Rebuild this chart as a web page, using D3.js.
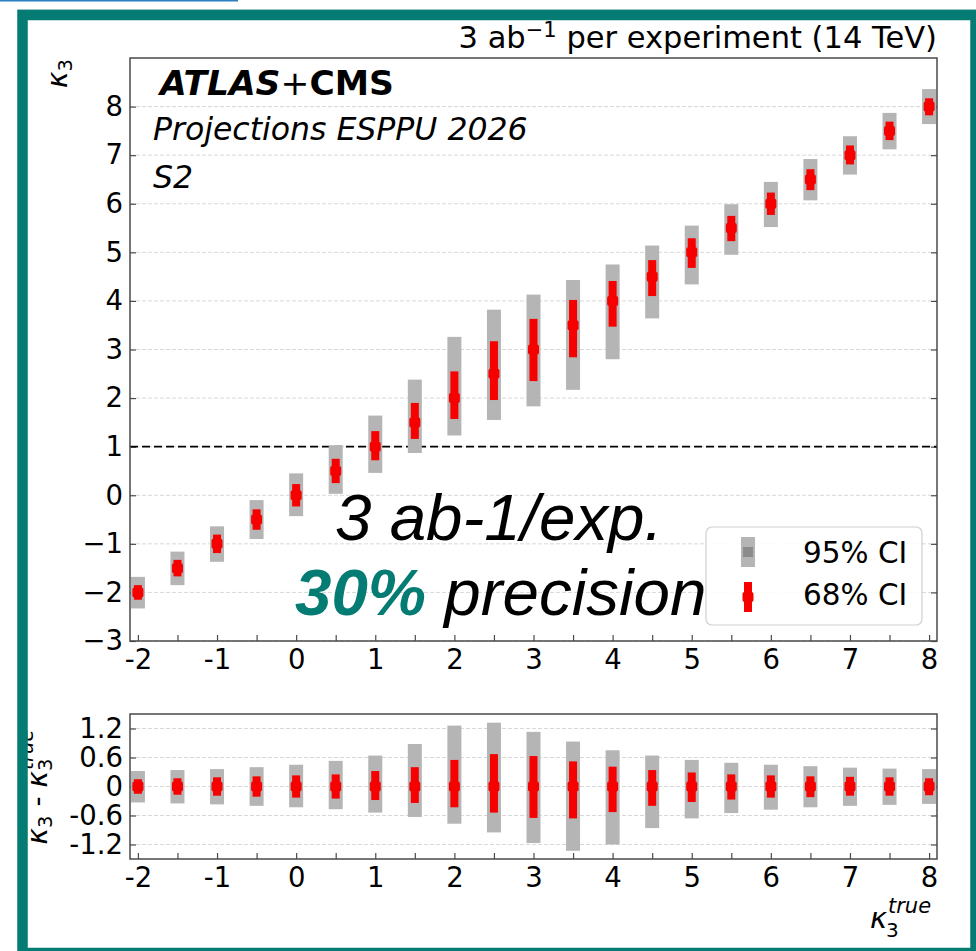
<!DOCTYPE html>
<html><head><meta charset="utf-8">
<script src="https://cdn.jsdelivr.net/npm/d3@7/dist/d3.min.js"></script>
<style>body{margin:0;background:#fff}svg{display:block}</style>
</head><body>
<svg id="c" width="976" height="951"></svg>
<script>
// ---------------- data ----------------
const kTrue  = [-2,-1.5,-1,-0.5,0,0.5,1,1.5,2,2.5,3,3.5,4,4.5,5,5.5,6,6.5,7,7.5,8];
const kFit   = [-2,-1.5,-1,-0.5,0,0.5,1,1.5,2,2.5,3,3.5,4,4.5,5,5.5,6,6.5,7,7.5,8];
const ci95Up = [0.32,0.34,0.36,0.40,0.45,0.53,0.64,0.88,1.26,1.32,1.13,0.93,0.75,0.64,0.55,0.49,0.45,0.42,0.39,0.37,0.36];
const ci95Dn = [0.33,0.35,0.37,0.40,0.43,0.47,0.54,0.63,0.77,0.95,1.17,1.33,1.20,0.86,0.66,0.55,0.48,0.43,0.40,0.38,0.36];
const ci68Up = [0.15,0.17,0.19,0.21,0.23,0.25,0.32,0.40,0.55,0.67,0.63,0.52,0.41,0.34,0.29,0.25,0.23,0.21,0.20,0.19,0.17];
const ci68Dn = [0.15,0.17,0.19,0.21,0.23,0.25,0.28,0.34,0.43,0.54,0.65,0.66,0.53,0.40,0.32,0.27,0.23,0.22,0.19,0.19,0.18];
const xTicks      = [-2,-1.5,-1,-0.5,0,0.5,1,1.5,2,2.5,3,3.5,4,4.5,5,5.5,6,6.5,7,7.5,8];
const xTickLabels = ["-2","","-1","","0","","1","","2","","3","","4","","5","","6","","7","","8"];
const yTicksMain      = [-3,-2,-1,0,1,2,3,4,5,6,7,8];
const yTickLabelsMain = ["\u22123","\u22122","\u22121","0","1","2","3","4","5","6","7","8"];
const yTicksRatio      = [-1.2,-0.6,0,0.6,1.2];
const yTickLabelsRatio = ["-1.2","-0.6","0","0.6","1.2"];
const refLine = [1];
const legendLabels = ["95% CI","68% CI"];

// ---------------- style ----------------
const TEAL = "#047b73", GRAY = "#b5b5b5", RED = "#f60000", SPINE = "#4a4a4a";
const FONT = "'DejaVu Sans', sans-serif";
const TFS = 27.5;

const svg = d3.select("#c");
svg.append("rect").attr("width",976).attr("height",951).attr("fill","#fff");

const x = d3.scaleLinear().domain([-2.1, 8.1]).range([130, 937]);
const yM = d3.scaleLinear().domain([-3, 9]).range([641, 58]);
const yR = d3.scaleLinear().domain([-1.5, 1.5]).range([859, 714]);

function panel(yScale, yTicks, yLabels, gridTicks) {
  const g = svg.append("g");
  const [y0, y1] = yScale.range();
  g.selectAll("line.grid").data(gridTicks).join("line")
    .attr("x1", x.range()[0]).attr("x2", x.range()[1])
    .attr("y1", d => yScale(d)).attr("y2", d => yScale(d))
    .attr("stroke", "#d8d8d8").attr("stroke-width", 1).attr("stroke-dasharray", "4,2");
  const ax = g.append("g").attr("transform", `translate(0,${y0})`)
    .call(d3.axisBottom(x).tickValues(xTicks).tickSize(-6).tickPadding(8).tickFormat((d,i)=>xTickLabels[i]));
  const ay = g.append("g").attr("transform", `translate(${x.range()[0]},0)`)
    .call(d3.axisLeft(yScale).tickValues(yTicks).tickSize(-6).tickPadding(7).tickFormat((d,i)=>yLabels[i]));
  const ayr = g.append("g").attr("transform", `translate(${x.range()[1]},0)`)
    .call(d3.axisRight(yScale).tickValues(yTicks).tickSize(-6).tickFormat(""));
  [ax, ay, ayr].forEach(a => {
    a.select(".domain").remove();
    a.selectAll(".tick line").attr("stroke", SPINE).attr("stroke-width", 1.2);
    a.selectAll("text").attr("font-family", FONT).attr("font-size", TFS).attr("fill", "#000");
  });
  return g;
}

const gMain = panel(yM, yTicksMain, yTickLabelsMain, yTicksMain);
const gRat = panel(yR, yTicksRatio, yTickLabelsRatio, yTicksRatio);

gMain.selectAll("line.ref").data(refLine).join("line")
  .attr("x1", x.range()[0]).attr("x2", x.range()[1])
  .attr("y1", d => yM(d)).attr("y2", d => yM(d))
  .attr("stroke", "#000").attr("stroke-width", 1.6).attr("stroke-dasharray", "8,4");

function drawPoints(g, yScale, center) {
  const idx = d3.range(kTrue.length);
  g.selectAll("rect.ci95").data(idx).join("rect")
    .attr("x", i => x(kTrue[i]) - 7).attr("width", 14)
    .attr("y", i => yScale(center(i) + ci95Up[i]))
    .attr("height", i => yScale(center(i) - ci95Dn[i]) - yScale(center(i) + ci95Up[i]))
    .attr("fill", GRAY);
  g.selectAll("rect.ci68").data(idx).join("rect")
    .attr("x", i => x(kTrue[i]) - 4).attr("width", 8)
    .attr("y", i => yScale(center(i) + ci68Up[i]))
    .attr("height", i => yScale(center(i) - ci68Dn[i]) - yScale(center(i) + ci68Up[i]))
    .attr("fill", RED);
  g.selectAll("rect.mk").data(idx).join("rect")
    .attr("x", i => x(kTrue[i]) - 5.5).attr("width", 11)
    .attr("y", i => yScale(center(i)) - 5).attr("height", 10).attr("rx", 2)
    .attr("fill", RED);
}
const gPtsM = svg.append("g");
drawPoints(gPtsM, yM, i => kFit[i]);
const gPtsR = svg.append("g");
drawPoints(gPtsR, yR, i => kFit[i] - kTrue[i]);

[[yM],[yR]].forEach(([ys]) => {
  const [b, t] = ys.range();
  svg.append("rect").attr("x", x.range()[0]).attr("y", t)
    .attr("width", x.range()[1] - x.range()[0]).attr("height", b - t)
    .attr("fill", "none").attr("stroke", SPINE).attr("stroke-width", 1.5);
});

// texts inside main panel
const t1 = svg.append("text").attr("x", 160).attr("y", 95).attr("font-family", FONT).attr("font-size", 34.5).attr("font-weight", "bold");
t1.append("tspan").attr("font-style", "italic").text("ATLAS");
t1.append("tspan").attr("font-weight", "normal").text("+");
t1.append("tspan").text("CMS");
svg.append("text").attr("x", 153).attr("y", 140).attr("font-family", FONT).attr("font-size", 31.5).attr("font-style", "italic").text("Projections ESPPU 2026");
svg.append("text").attr("x", 153).attr("y", 188).attr("font-family", FONT).attr("font-size", 31.5).attr("font-style", "italic").text("S2");

// title
const tt = svg.append("text").attr("x", 937).attr("y", 48).attr("text-anchor", "end").attr("font-family", FONT).attr("font-size", 30.5);
tt.append("tspan").text("3 ab");
tt.append("tspan").attr("font-size", 21).attr("dy", -11).text("\u22121");
tt.append("tspan").attr("dy", 11).text(" per experiment (14 TeV)");

// y label main
const yl = svg.append("text").attr("transform", "translate(67,59) rotate(-90)").attr("text-anchor", "end").attr("font-family", FONT).attr("font-size", 28);
yl.append("tspan").attr("font-style", "italic").text("\u03BA");
yl.append("tspan").attr("font-size", 19.5).attr("dy", 5).text("3");

// y label ratio
const yl2 = svg.append("text").attr("transform", "translate(47,787) rotate(-90)").attr("text-anchor", "middle").attr("font-family", FONT).attr("font-size", 28);
yl2.append("tspan").attr("font-style", "italic").text("\u03BA");
yl2.append("tspan").attr("font-size", 19.5).attr("dy", 5).text("3");
yl2.append("tspan").attr("dy", -5).text(" - ");
yl2.append("tspan").attr("font-style", "italic").text("\u03BA");
yl2.append("tspan").attr("font-size", 19.5).attr("dy", 5).text("3");
yl2.append("tspan").attr("font-size", 19.5).attr("font-style", "italic").attr("dx", -11).attr("dy", -19).text("true");

// x label (kappa_3 with stacked sub/superscript)
svg.append("text").attr("x", 887).attr("y", 928).attr("text-anchor", "end").attr("font-family", FONT).attr("font-size", 29).attr("font-style", "italic").text("\u03BA");
svg.append("text").attr("x", 886).attr("y", 937).attr("font-family", FONT).attr("font-size", 20).text("3");
svg.append("text").attr("x", 888).attr("y", 913).attr("font-family", FONT).attr("font-size", 21).attr("font-style", "italic").text("true");

// overlay annotation
const OF = "'Liberation Sans', Arial, sans-serif";
svg.append("text").attr("x", 335).attr("y", 540).attr("font-family", OF).attr("font-size", 65.5).attr("font-style", "italic").text("3 ab-1/exp.");
const o2 = svg.append("text").attr("x", 295).attr("y", 615).attr("font-family", OF).attr("font-size", 65.5).attr("font-style", "italic");
o2.append("tspan").attr("font-weight", "bold").attr("fill", TEAL).text("30%");
o2.append("tspan").text(" precision");

// legend
const lg = svg.append("g");
lg.append("rect").attr("x", 706).attr("y", 527).attr("width", 216).attr("height", 98).attr("rx", 6)
  .attr("fill", "#fff").attr("fill-opacity", 0.85).attr("stroke", "#d0d0d0").attr("stroke-width", 1.2);
lg.append("rect").attr("x", 741).attr("y", 537).attr("width", 14).attr("height", 30).attr("fill", GRAY);
lg.append("rect").attr("x", 743).attr("y", 547).attr("width", 10).attr("height", 10).attr("fill", "#8c8c8c");
lg.append("rect").attr("x", 744).attr("y", 582).attr("width", 8).attr("height", 30).attr("fill", RED);
lg.append("rect").attr("x", 742.5).attr("y", 592).attr("width", 11).attr("height", 10).attr("rx", 2).attr("fill", RED);
lg.selectAll("text.lt").data(legendLabels).join("text")
  .attr("x", 803).attr("y", (d,i) => 563 + i*42).attr("font-family", FONT).attr("font-size", 29.5).text(d => d);

// outer slide decorations
svg.append("line").attr("x1", 0).attr("x2", 238).attr("y1", 0.7).attr("y2", 0.7).attr("stroke", "#2a7fc4").attr("stroke-width", 1.5);
svg.append("line").attr("x1", 17).attr("x2", 976).attr("y1", 9.5).attr("y2", 9.5).attr("stroke", "#cfdcdc").attr("stroke-width", 1);
svg.append("rect").attr("x", 22.5).attr("y", 15).attr("width", 953).attr("height", 938)
  .attr("fill", "none").attr("stroke", TEAL).attr("stroke-width", 10.5);
</script>
</body></html>
